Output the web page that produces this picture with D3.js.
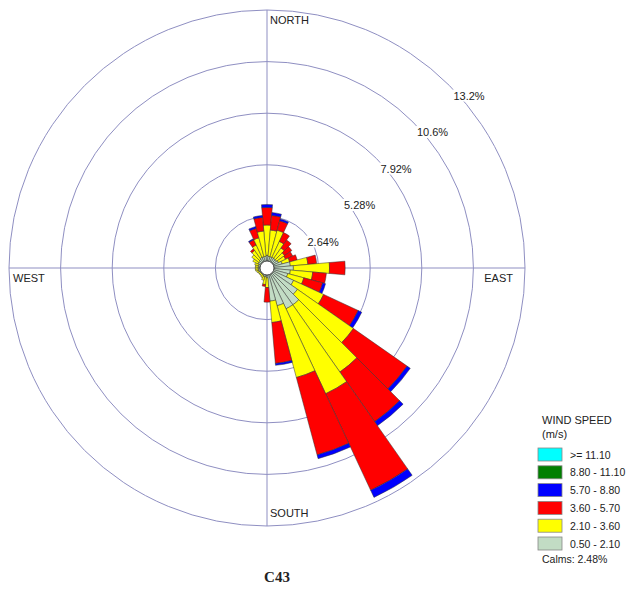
<!DOCTYPE html>
<html>
<head>
<meta charset="utf-8">
<script src="https://cdn.jsdelivr.net/npm/d3@7"></script>
<style>
  html, body { margin: 0; padding: 0; background: #fff; }
  svg { display: block; }
  text { font-family: "Liberation Sans", Arial, Helvetica, sans-serif; fill: #222; }
</style>
</head>
<body>
<svg id="chart" width="626" height="590"></svg>
<script>
// Direction of each petal (degrees clockwise from north), 36 sectors
const directions = d3.range(0, 360, 10);

// Frequency (%) of each wind-speed class per direction
const speed050_210 = [0.65,0.60,0.60,0.60,0.60,0.60,0.65,0.80,1.20,1.35,1.20,1.10,
                      1.50,1.90,2.30,2.30,2.00,1.70,0.50,0.45,0.45,0.40,0.40,0.40,
                      0.40,0.45,0.45,0.45,0.45,0.45,0.50,0.50,0.55,0.60,0.60,0.60];
const speed210_360 = [1.55,1.35,1.40,0.90,0.65,0.50,0.40,0.40,0.90,1.85,1.15,0.85,
                      1.70,3.50,4.20,4.80,3.80,1.10,0.50,0.40,0.20,0.15,0.10,0.10,
                      0.10,0.10,0.15,0.15,0.15,0.20,0.30,0.45,0.55,0.70,1.00,1.30];
const speed360_570 = [0.90,0.75,0.50,0.50,0.50,0.45,0.40,0.40,0.45,0.80,0.70,1.00,
                      1.95,3.35,3.10,5.45,4.10,2.10,0.75,0.10,0.00,0.00,0.00,0.00,
                      0.00,0.00,0.00,0.00,0.00,0.00,0.00,0.00,0.10,0.30,0.50,0.70];
const speed570_880 = [0.15,0.15,0.10,0.00,0.00,0.00,0.00,0.00,0.00,0.00,0.00,0.15,
                      0.20,0.20,0.25,0.40,0.20,0.10,0.00,0.00,0.00,0.00,0.00,0.00,
                      0.00,0.00,0.00,0.00,0.00,0.00,0.00,0.00,0.00,0.05,0.10,0.10];
const speed880_1110 = directions.map(() => 0);
const speed1110_up  = directions.map(() => 0);

const classLabels = [">= 11.10", "8.80 - 11.10", "5.70 - 8.80", "3.60 - 5.70", "2.10 - 3.60", "0.50 - 2.10"];
const classColors = ["#00ffff", "#007f00", "#0000ff", "#ff0000", "#ffff00", "#c2dcc4"];

const ringValues = [2.64, 5.28, 7.92, 10.56, 13.2];
const ringLabels = ["2.64%", "5.28%", "7.92%", "10.6%", "13.2%"];
const compassLabels = ["NORTH", "EAST", "SOUTH", "WEST"];
const calmsText = "Calms: 2.48%";
const title = "C43";

// ---- layout ----
const svg = d3.select("#chart");
const cx = 267, cy = 268, outerR = 258;
const r = d3.scaleLinear().domain([0, 13.2]).range([0, outerR]);
const ringColor = "#8f8fc2";

const g = svg.append("g").attr("transform", `translate(${cx},${cy})`);

// range rings
g.selectAll("circle.ring").data(ringValues).join("circle")
  .attr("class", "ring")
  .attr("r", d => r(d))
  .attr("fill", "none")
  .attr("stroke", ringColor)
  .attr("stroke-width", 1);

// cross-hair axes
g.append("line").attr("x1", 0).attr("x2", 0).attr("y1", -outerR).attr("y2", outerR)
  .attr("stroke", ringColor).attr("stroke-width", 1);
g.append("line").attr("x1", -outerR).attr("x2", outerR).attr("y1", 0).attr("y2", 0)
  .attr("stroke", ringColor).attr("stroke-width", 1);

// stacked petals: classes from slowest (inner) to fastest (outer)
const stackOrder = [speed050_210, speed210_360, speed360_570, speed570_880, speed880_1110, speed1110_up];
const stackColors = classColors.slice().reverse();
const segments = [];
directions.forEach((dir, i) => {
  let acc = 0;
  stackOrder.forEach((series, k) => {
    const v = series[i];
    if (v > 0) segments.push({ dir, inner: acc, outer: acc + v, color: stackColors[k] });
    acc += v;
  });
});

const half = 5 * Math.PI / 180;
const arc = d3.arc()
  .innerRadius(d => r(d.inner))
  .outerRadius(d => r(d.outer))
  .startAngle(d => d.dir * Math.PI / 180 - half)
  .endAngle(d => d.dir * Math.PI / 180 + half);

g.selectAll("path.petal").data(segments).join("path")
  .attr("class", "petal")
  .attr("d", arc)
  .attr("fill", d => d.color)
  .attr("stroke", "#333")
  .attr("stroke-width", 0.5)
  .attr("stroke-linejoin", "round");

// calm circle
g.append("circle").attr("r", 7).attr("fill", "#fff").attr("stroke", "#222").attr("stroke-width", 0.8);

// ring labels along the 45 degree bearing
const a45 = Math.PI / 4;
ringValues.forEach((v, i) => {
  const px = r(v) * Math.sin(a45) + 4;
  const py = -r(v) * Math.cos(a45) + 14;
  const t = g.append("text").attr("x", px).attr("y", py)
    .attr("font-size", 11).text(ringLabels[i]);
  const bb = t.node().getBBox();
  g.insert("rect", () => t.node())
    .attr("x", bb.x - 1).attr("y", bb.y).attr("width", bb.width + 2).attr("height", bb.height)
    .attr("fill", "#fff");
});

// compass labels
const compassPos = {
  NORTH: { x: cx + 3, y: 24, anchor: "start" },
  EAST:  { x: 513, y: 282, anchor: "end" },
  SOUTH: { x: cx + 3, y: 517, anchor: "start" },
  WEST:  { x: 13, y: 282, anchor: "start" }
};
compassLabels.forEach(lbl => {
  const p = compassPos[lbl];
  svg.append("text").attr("x", p.x).attr("y", p.y)
    .attr("text-anchor", p.anchor).attr("font-size", 11).text(lbl);
});

// legend
const lg = svg.append("g").attr("transform", "translate(538,0)");
lg.append("text").attr("x", 4).attr("y", 424).attr("font-size", 11).text("WIND SPEED");
lg.append("text").attr("x", 4).attr("y", 438).attr("font-size", 11).text("(m/s)");
classLabels.forEach((lbl, i) => {
  const y = 448 + i * 17.8;
  lg.append("rect").attr("x", 0).attr("y", y).attr("width", 24).attr("height", 13)
    .attr("fill", classColors[i]).attr("stroke", "#888").attr("stroke-width", 0.8);
  lg.append("text").attr("x", 32).attr("y", y + 10.5).attr("font-size", 10.5).text(lbl);
});
lg.append("text").attr("x", 4).attr("y", 563).attr("font-size", 10.5).text(calmsText);

// title
svg.append("text").attr("x", 277).attr("y", 582).attr("text-anchor", "middle")
  .style("font-family", "'Liberation Serif', 'Times New Roman', serif")
  .attr("font-weight", "bold").attr("font-size", 15).text(title);
</script>
</body>
</html>
